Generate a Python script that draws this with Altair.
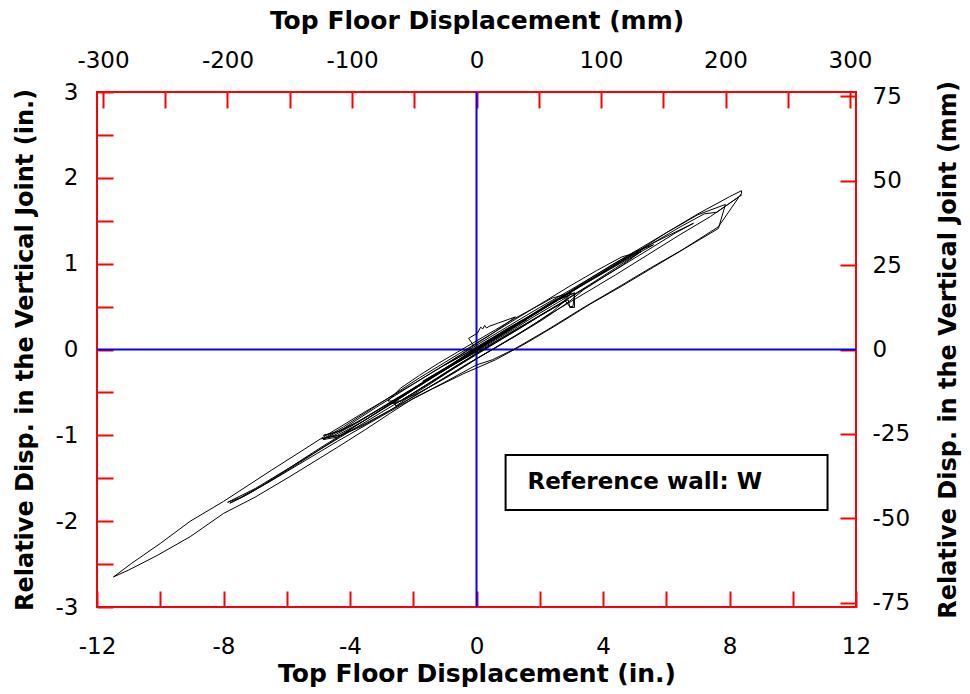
import altair as alt
import pandas as pd

# ---------------- data (inches) ----------------
seg0 = [(0.00, 0.00), (-0.25, 0.13), (0.03, 0.19), (0.13, 0.26), (0.20, 0.24), (0.26, 0.28),
        (0.32, 0.25), (0.40, 0.27), (0.70, 0.31), (1.23, 0.38), (0.90, 0.29), (0.40, 0.16),
        (0.00, 0.07), (-0.50, -0.06), (-1.00, -0.18), (-0.60, -0.10), (0.00, 0.03), (0.60, 0.16),
        (1.20, 0.29), (1.60, 0.37)]
cyc1 = [(1.00, 0.25), (0.40, 0.11), (0.00, 0.01), (-0.60, -0.13), (-1.10, -0.24), (-1.60, -0.35),
        (-1.10, -0.26), (-0.50, -0.13), (0.00, -0.02), (0.50, 0.10), (1.00, 0.21), (1.60, 0.35),
        (1.10, 0.26), (0.50, 0.13), (0.00, 0.02), (-0.50, -0.10), (-1.00, -0.22), (-1.70, -0.37),
        (-1.20, -0.28), (-0.60, -0.15), (0.00, -0.03), (0.60, 0.11), (1.20, 0.24)]
cyc2 = [(1.80, 0.38), (2.40, 0.51), (2.90, 0.62), (3.00, 0.68), (2.90, 0.66), (2.40, 0.56),
        (1.80, 0.42), (1.20, 0.28), (0.60, 0.14), (0.00, 0.01), (-0.60, -0.13), (-1.20, -0.27),
        (-1.80, -0.41), (-2.30, -0.53), (-2.70, -0.63), (-2.50, -0.62), (-2.00, -0.51), (-1.40, -0.37),
        (-0.80, -0.23), (-0.20, -0.09), (0.40, 0.05), (1.00, 0.18), (1.60, 0.31), (2.20, 0.44),
        (2.80, 0.57), (2.95, 0.50), (3.05, 0.50), (3.10, 0.66),
        (2.60, 0.58), (2.00, 0.45), (1.40, 0.32), (0.80, 0.18), (0.20, 0.05), (-0.40, -0.09),
        (-1.00, -0.23), (-1.60, -0.37), (-2.20, -0.51), (-2.75, -0.64), (-2.40, -0.60), (-1.80, -0.46),
        (-1.20, -0.32), (-0.60, -0.18), (0.00, -0.05), (0.60, 0.09), (1.20, 0.22), (1.80, 0.35),
        (2.40, 0.48), (2.90, 0.58), (2.95, 0.49), (3.10, 0.49), (3.10, 0.66),
        (2.50, 0.57), (1.90, 0.44), (1.30, 0.31), (0.70, 0.17), (0.10, 0.03), (-0.50, -0.11),
        (-1.10, -0.25), (-1.70, -0.39), (-2.30, -0.53), (-2.60, -0.60), (-2.55, -0.66), (-2.20, -0.57),
        (-1.50, -0.41), (-0.80, -0.24), (-0.10, -0.07), (0.60, 0.08), (1.30, 0.23), (2.00, 0.39),
        (2.70, 0.54),
        (3.00, 0.66), (2.40, 0.60), (1.80, 0.48), (1.20, 0.36), (0.60, 0.23), (0.00, 0.10),
        (-0.60, -0.03), (-1.20, -0.16), (-1.80, -0.30), (-2.40, -0.45), (-2.80, -0.60), (-2.40, -0.60),
        (-1.80, -0.50), (-1.20, -0.38), (-0.60, -0.25), (0.00, -0.11), (0.60, 0.02), (1.20, 0.15),
        (1.80, 0.29), (2.40, 0.44), (2.90, 0.60)]
cyc3x = [(3.60, 0.76), (4.40, 0.95), (5.20, 1.14), (4.60, 1.08), (3.80, 0.92), (3.00, 0.75),
         (2.20, 0.57), (1.40, 0.39), (0.60, 0.21), (-0.20, 0.03), (-1.00, -0.15), (-1.80, -0.33),
         (-2.60, -0.52), (-3.40, -0.71), (-4.20, -0.90), (-4.80, -1.03), (-4.30, -1.00), (-3.50, -0.86),
         (-2.70, -0.70), (-1.90, -0.53), (-1.10, -0.35), (-0.30, -0.17), (0.50, 0.00), (1.30, 0.17),
         (2.10, 0.35), (2.90, 0.55)]
cyc3 = [(3.40, 0.70), (4.00, 0.84), (4.60, 0.98), (5.20, 1.14), (4.80, 1.08), (4.20, 0.95),
        (3.50, 0.79), (2.80, 0.63), (2.00, 0.45), (1.20, 0.27), (0.40, 0.09), (-0.40, -0.09),
        (-1.20, -0.27), (-2.00, -0.45), (-2.80, -0.63), (-3.60, -0.81), (-4.30, -0.95), (-4.84, -1.00),
        (-4.40, -0.96), (-3.80, -0.85), (-3.00, -0.68), (-2.20, -0.50), (-1.40, -0.32), (-0.60, -0.14),
        (0.20, 0.04), (1.00, 0.22), (1.80, 0.40), (2.60, 0.58), (3.40, 0.76), (4.20, 0.93),
        (5.00, 1.10), (5.60, 1.22),
        (5.00, 1.14), (4.30, 0.99), (3.60, 0.83), (2.80, 0.64), (2.00, 0.46), (1.20, 0.27),
        (0.40, 0.08), (-0.40, -0.10), (-1.20, -0.28), (-2.00, -0.47), (-2.80, -0.66), (-3.60, -0.84),
        (-4.40, -1.00), (-4.90, -1.04), (-4.50, -1.00), (-3.80, -0.86), (-3.00, -0.68), (-2.20, -0.50),
        (-1.40, -0.32), (-0.60, -0.13), (0.20, 0.05), (1.00, 0.23), (1.80, 0.41), (2.60, 0.59),
        (3.40, 0.77), (4.20, 0.95), (5.00, 1.13), (5.80, 1.28), (6.86, 1.47)]
cyc4 = [(6.30, 1.36), (5.60, 1.20), (4.80, 1.02), (4.00, 0.84), (3.20, 0.66), (2.40, 0.48),
        (1.60, 0.30), (0.80, 0.12), (0.00, -0.06), (-0.80, -0.24), (-1.60, -0.42), (-2.50, -0.62),
        (-3.40, -0.82), (-4.30, -1.02), (-5.20, -1.22), (-6.10, -1.42), (-7.00, -1.62), (-7.87, -1.78),
        (-7.50, -1.73), (-6.80, -1.59), (-6.00, -1.40), (-5.00, -1.16), (-4.00, -0.93), (-3.00, -0.70),
        (-2.00, -0.47), (-1.00, -0.24), (0.00, -0.01), (1.00, 0.22), (2.00, 0.45), (3.00, 0.68),
        (4.00, 0.90), (5.00, 1.12), (6.00, 1.36), (7.00, 1.57), (7.87, 1.69), (7.65, 1.41),
        (6.60, 1.18), (5.60, 0.96), (4.60, 0.74), (3.60, 0.53), (2.60, 0.30), (1.60, 0.08),
        (0.60, -0.12), (-0.40, -0.28), (-1.40, -0.46), (-2.40, -0.65), (-3.40, -0.86), (-4.40, -1.07),
        (-5.40, -1.29), (-6.40, -1.51), (-7.20, -1.68), (-7.80, -1.79),
        (-7.40, -1.72), (-6.60, -1.55), (-5.60, -1.32), (-4.60, -1.08), (-3.60, -0.84), (-2.60, -0.60),
        (-1.60, -0.37), (-0.60, -0.14), (0.40, 0.09), (1.40, 0.32), (2.40, 0.54), (3.40, 0.76),
        (4.40, 0.98), (5.40, 1.20), (6.40, 1.42), (7.20, 1.58), (7.60, 1.60), (8.38, 1.80)]
cyc5 = [(7.40, 1.55), (6.40, 1.33), (5.40, 1.10), (4.40, 0.87), (3.40, 0.65), (2.40, 0.43),
        (1.40, 0.20), (0.40, -0.02), (-0.60, -0.24), (-1.60, -0.46), (-2.60, -0.68), (-3.60, -0.89),
        (-4.40, -1.02), (-4.85, -1.05), (-4.20, -0.92), (-3.20, -0.68), (-2.20, -0.45), (-1.20, -0.22),
        (0.00, 0.05), (1.00, 0.27), (2.00, 0.49), (3.00, 0.70), (4.00, 0.92), (5.00, 1.14),
        (6.00, 1.36), (7.00, 1.58), (8.00, 1.78), (8.38, 1.85), (8.38, 1.82), (7.65, 1.43),
        (6.50, 1.16), (5.50, 0.95), (4.50, 0.73), (3.30, 0.47), (2.20, 0.22), (1.17, 0.00),
        (0.50, -0.12), (0.00, -0.18), (-1.00, -0.38), (-2.00, -0.57), (-2.72, -0.74), (-3.50, -0.93),
        (-4.40, -1.14), (-5.90, -1.48), (-7.00, -1.72), (-8.00, -1.91), (-9.05, -2.18), (-10.10, -2.40),
        (-11.00, -2.57), (-11.48, -2.65), (-10.90, -2.49), (-10.00, -2.26), (-9.05, -2.00), (-8.00, -1.77),
        (-6.50, -1.41), (-4.84, -1.02), (-3.50, -0.72), (-2.00, -0.40), (-1.00, -0.18), (0.00, 0.02)]

ref_x = [0.0]
ref_y = [0.0]
note_text = ["Reference wall: W"]
note_x = [1.61]
note_y = [-1.54]
box_x1 = [0.92]
box_x2 = [11.1]
box_y1 = [-1.23]
box_y2 = [-1.87]

x_ticks_in = [-12, -10, -8, -6, -4, -2, 0, 2, 4, 6, 8, 10, 12]
y_ticks_in = [-3, -2.5, -2, -1.5, -1, -0.5, 0, 0.5, 1, 1.5, 2, 2.5, 3]
x_ticks_mm = [-300, -250, -200, -150, -100, -50, 0, 50, 100, 150, 200, 250, 300]
y_ticks_mm = [-75, -50, -25, 0, 25, 50, 75]

pts = seg0 + cyc1 + cyc2 + cyc3x + cyc3 + cyc4 + cyc5
df = pd.DataFrame({"x": [p[0] for p in pts], "y": [p[1] for p in pts], "i": list(range(len(pts)))})

FONT = "DejaVu Sans"
TICK = 16
RED = "#FF0000"

xs = alt.Scale(domain=[-12, 12], nice=False, zero=False)
ys = alt.Scale(domain=[-3, 3], nice=False, zero=False)

common = dict(tickColor=RED, tickWidth=2, tickSize=TICK, domain=False, grid=False,
              labelFont=FONT, labelFontSize=23, labelColor="black", labelFlush=False,
              labelOverlap=False, titleFont=FONT, titleFontWeight="bold",
              titleColor="black")

ax_bottom = alt.Axis(orient="bottom", values=x_ticks_in, offset=-TICK,
                     labelExpr="datum.value % 4 == 0 ? '' + datum.value : ''",
                     labelPadding=28, title="Top Floor Displacement (in.)", titlePadding=3,
                     titleFontSize=25, **common)
ax_left = alt.Axis(orient="left", values=y_ticks_in, offset=-TICK,
                   labelExpr="datum.value % 1 == 0 ? '' + datum.value : ''",
                   labelPadding=19, title="Relative Disp. in the Vertical Joint (in.)",
                   titlePadding=18, titleFontSize=24, **common)
ax_top = alt.Axis(orient="top", values=x_ticks_mm, offset=-TICK,
                  labelExpr="datum.value % 100 == 0 ? '' + datum.value : ''",
                  labelPadding=20, title="Top Floor Displacement (mm)", titlePadding=16,
                  titleFontSize=25, **common)
ax_right = alt.Axis(orient="right", values=y_ticks_mm, offset=-TICK,
                    labelExpr="'' + datum.value",
                    labelPadding=16, title="Relative Disp. in the Vertical Joint (mm)",
                    titlePadding=27, titleAngle=270, titleBaseline="top", titleFontSize=24, **common)


def X(f):
    return alt.X(f, type="quantitative", scale=xs, axis=ax_bottom)


def Y(f):
    return alt.Y(f, type="quantitative", scale=ys, axis=ax_left)


curve = alt.Chart(df).mark_line(color="black", strokeWidth=1).encode(
    x=X("x"), y=Y("y"), order=alt.Order("i:Q"))

vline = alt.Chart(pd.DataFrame({"rx": ref_x})).mark_rule(color="#0000FF", strokeWidth=2).encode(x=X("rx"))
hline = alt.Chart(pd.DataFrame({"ry": ref_y})).mark_rule(color="#0000FF", strokeWidth=2).encode(y=Y("ry"))

box = alt.Chart(pd.DataFrame({"x1": box_x1, "x2": box_x2, "y1": box_y1, "y2": box_y2})).mark_rect(
    fill="white", stroke="black", strokeWidth=2).encode(x=X("x1"), x2="x2", y=Y("y1"), y2="y2")

note = alt.Chart(pd.DataFrame({"tx": note_x, "ty": note_y, "t": note_text})).mark_text(
    align="left", baseline="middle", font=FONT, fontSize=23, fontWeight="bold", color="black"
).encode(x=X("tx"), y=Y("ty"), text="t:N")

inch_layer = alt.layer(vline, hline, curve, box, note)

mm_layer = alt.Chart(df).transform_calculate(
    xmm="datum.x * 25.4", ymm="datum.y * 25.4"
).mark_point(opacity=0).encode(
    x=alt.X("xmm:Q", scale=alt.Scale(domain=[-304.8, 304.8], nice=False, zero=False), axis=ax_top),
    y=alt.Y("ymm:Q", scale=alt.Scale(domain=[-76.2, 76.2], nice=False, zero=False), axis=ax_right),
)

chart = alt.layer(inch_layer, mm_layer).resolve_scale(
    x="independent", y="independent"
).properties(
    width=759, height=515,
    autosize=alt.AutoSizeParams(type="none"),
    padding={"left": 97, "top": 92, "right": 114, "bottom": 87},
    background="white",
).configure_view(stroke=RED, strokeWidth=2)

chart.save("out.html", embed_options={"renderer": "svg", "actions": False})
